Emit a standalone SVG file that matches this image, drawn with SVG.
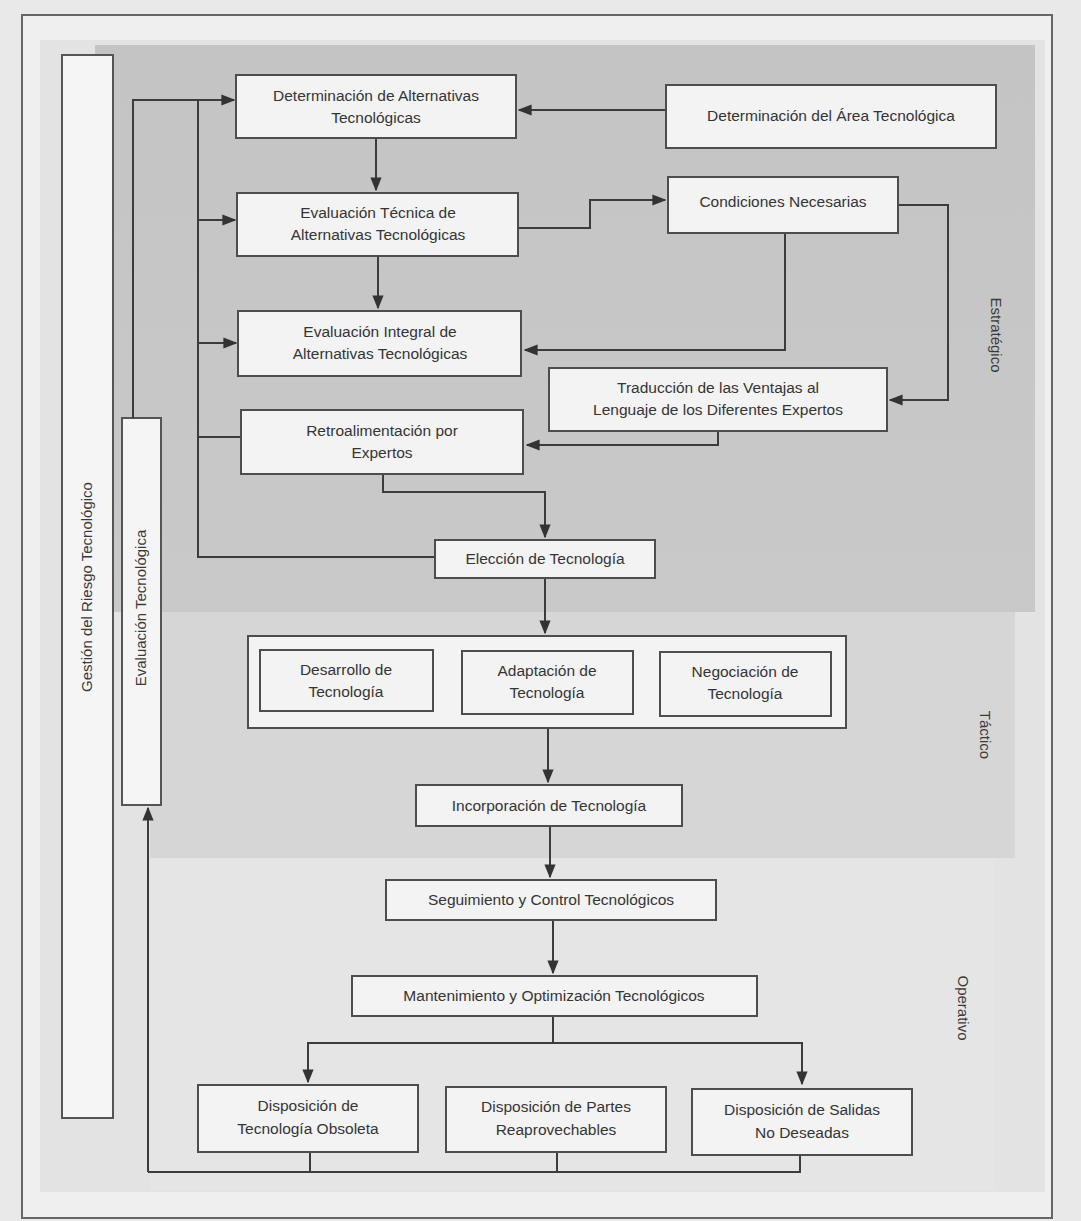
<svg xmlns="http://www.w3.org/2000/svg" width="1081" height="1221" viewBox="0 0 1081 1221">
<defs>
<marker id="ah" viewBox="0 0 10 10" refX="9" refY="5" markerWidth="7" markerHeight="7" orient="auto-start-reverse">
<path d="M0,1 L10,5 L0,9 z" fill="#333"/>
</marker>
<linearGradient id="gs" x1="0" y1="0" x2="0" y2="1">
<stop offset="0" stop-color="#c4c4c4"/>
<stop offset="1" stop-color="#c9c9c9"/>
</linearGradient>
</defs>
<style>
.box{fill:#f3f3f3;stroke:#4d4d4d;stroke-width:2}
.bar{fill:#f5f5f5;stroke:#555;stroke-width:2}
.t{font-family:"Liberation Sans",Arial,sans-serif;font-size:15.5px;fill:#353535;text-anchor:middle}
.lbl{font-family:"Liberation Sans",Arial,sans-serif;font-size:15px;fill:#3a3a3a;text-anchor:middle}
.c{fill:none;stroke:#3c3c3c;stroke-width:2}
.ca{fill:none;stroke:#3c3c3c;stroke-width:2;marker-end:url(#ah)}
</style>
<rect x="0" y="0" width="1081" height="1221" fill="#e9e9e9"/>
<rect x="22" y="15" width="1030" height="1203" fill="#efefef" stroke="#666" stroke-width="2"/>
<g id="bands">
<rect x="40" y="40" width="1005" height="1152" fill="#e3e3e3"/>
<rect x="95" y="45" width="940" height="567" fill="url(#gs)"/>
<rect x="150" y="612" width="865" height="246" fill="#d6d6d6"/>
<rect x="150" y="858" width="845" height="332" fill="#e5e5e5"/>
</g>
<g id="gestion-riesgo">
<rect class="bar" x="62" y="55" width="51" height="1063"/>
<text class="lbl" transform="translate(92,587) rotate(-90)">Gestión del Riesgo Tecnológico</text>
</g>
<g id="evaluacion-tecnologica">
<rect class="bar" x="122" y="418" width="39" height="387"/>
<text class="lbl" transform="translate(146,608) rotate(-90)">Evaluación Tecnológica</text>
</g>
<g id="lbl-estrategico"><text class="lbl" transform="translate(991,335) rotate(90)">Estratégico</text></g>
<g id="lbl-tactico"><text class="lbl" transform="translate(980,735) rotate(90)">Táctico</text></g>
<g id="lbl-operativo"><text class="lbl" transform="translate(958,1008) rotate(90)">Operativo</text></g>

<g id="connectors">
<path class="ca" d="M666,110 L519,110"/>
<path class="ca" d="M376,138 L376,190"/>
<path class="ca" d="M378,256 L378,308"/>
<path class="ca" d="M518,228 L590,228 L590,200 L665,200"/>
<path class="ca" d="M785,233 L785,350 L525,350"/>
<path class="ca" d="M898,205 L948,205 L948,400 L890,400"/>
<path class="ca" d="M718,431 L718,445 L527,445"/>
<path class="ca" d="M383,474 L383,492 L545,492 L545,537"/>
<path class="c" d="M435,557 L198,557 L198,100"/>
<path class="c" d="M198,437 L241,437"/>
<path class="ca" d="M198,220 L235,220"/>
<path class="ca" d="M198,343 L236,343"/>
<path class="ca" d="M133,418 L133,100 L234,100"/>
<path class="ca" d="M545,578 L545,633"/>
<path class="ca" d="M548,728 L548,782"/>
<path class="ca" d="M550,826 L550,877"/>
<path class="ca" d="M553,920 L553,973"/>
<path class="c" d="M553,1016 L553,1043"/>
<path class="ca" d="M553,1043 L308,1043 L308,1082"/>
<path class="ca" d="M553,1043 L802,1043 L802,1084"/>
<path class="c" d="M310,1152 L310,1172"/>
<path class="c" d="M557,1152 L557,1172"/>
<path class="c" d="M800,1155 L800,1172 L148,1172"/>
<path class="ca" d="M148,1172 L148,808"/>
</g>

<g id="n-det-alternativas">
<rect class="box" x="236" y="75" width="280" height="63"/>
<text class="t" x="376" y="101">Determinación de Alternativas</text>
<text class="t" x="376" y="123">Tecnológicas</text>
</g>
<g id="n-det-area">
<rect class="box" x="666" y="85" width="330" height="63"/>
<text class="t" x="831" y="121">Determinación del Área Tecnológica</text>
</g>
<g id="n-eval-tecnica">
<rect class="box" x="237" y="193" width="281" height="63"/>
<text class="t" x="378" y="218">Evaluación Técnica de</text>
<text class="t" x="378" y="240">Alternativas Tecnológicas</text>
</g>
<g id="n-condiciones">
<rect class="box" x="668" y="177" width="230" height="56"/>
<text class="t" x="783" y="207">Condiciones Necesarias</text>
</g>
<g id="n-eval-integral">
<rect class="box" x="238" y="311" width="283" height="65"/>
<text class="t" x="380" y="337">Evaluación Integral de</text>
<text class="t" x="380" y="359">Alternativas Tecnológicas</text>
</g>
<g id="n-traduccion">
<rect class="box" x="549" y="368" width="338" height="63"/>
<text class="t" x="718" y="393">Traducción de las Ventajas al</text>
<text class="t" x="718" y="415">Lenguaje de los Diferentes Expertos</text>
</g>
<g id="n-retro">
<rect class="box" x="241" y="410" width="282" height="64"/>
<text class="t" x="382" y="436">Retroalimentación por</text>
<text class="t" x="382" y="458">Expertos</text>
</g>
<g id="n-eleccion">
<rect class="box" x="435" y="540" width="220" height="38"/>
<text class="t" x="545" y="564">Elección de Tecnología</text>
</g>
<g id="n-tactico">
<rect class="box" x="248" y="636" width="598" height="92"/>
<g id="n-desarrollo">
<rect class="box" x="260" y="650" width="173" height="61"/>
<text class="t" x="346" y="675">Desarrollo de</text>
<text class="t" x="346" y="697">Tecnología</text>
</g>
<g id="n-adaptacion">
<rect class="box" x="462" y="651" width="171" height="63"/>
<text class="t" x="547" y="676">Adaptación de</text>
<text class="t" x="547" y="698">Tecnología</text>
</g>
<g id="n-negociacion">
<rect class="box" x="660" y="652" width="171" height="64"/>
<text class="t" x="745" y="677">Negociación de</text>
<text class="t" x="745" y="699">Tecnología</text>
</g>
</g>
<g id="n-incorporacion">
<rect class="box" x="416" y="785" width="266" height="41"/>
<text class="t" x="549" y="811">Incorporación de Tecnología</text>
</g>
<g id="n-seguimiento">
<rect class="box" x="386" y="880" width="330" height="40"/>
<text class="t" x="551" y="905">Seguimiento y Control Tecnológicos</text>
</g>
<g id="n-mantenimiento">
<rect class="box" x="352" y="976" width="405" height="40"/>
<text class="t" x="554" y="1001">Mantenimiento y Optimización Tecnológicos</text>
</g>
<g id="n-disp-obsoleta">
<rect class="box" x="198" y="1085" width="220" height="67"/>
<text class="t" x="308" y="1111">Disposición de</text>
<text class="t" x="308" y="1134">Tecnología Obsoleta</text>
</g>
<g id="n-disp-partes">
<rect class="box" x="446" y="1087" width="220" height="65"/>
<text class="t" x="556" y="1112">Disposición de Partes</text>
<text class="t" x="556" y="1135">Reaprovechables</text>
</g>
<g id="n-disp-salidas">
<rect class="box" x="692" y="1089" width="220" height="66"/>
<text class="t" x="802" y="1115">Disposición de Salidas</text>
<text class="t" x="802" y="1138">No Deseadas</text>
</g>
</svg>
